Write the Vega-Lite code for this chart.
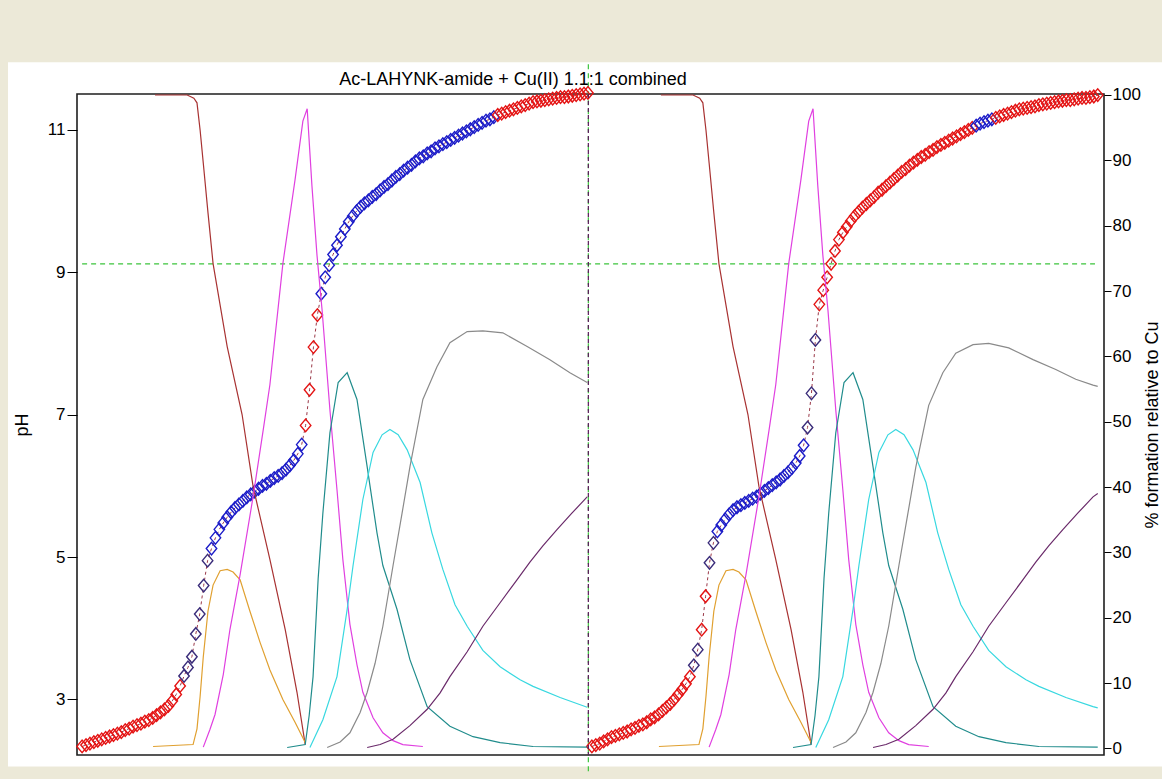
{
"$schema": "https://vega.github.io/schema/vega-lite/v6.json",
"width": 1027, "height": 661,
"autosize": "none",
"padding": {"left": 77, "top": 94, "right": 58, "bottom": 24},
"background": "#ece9d8",
"title": {"text": "Ac-LAHYNK-amide + Cu(II) 1.1:1 combined", "fontSize": 18, "font": "Liberation Sans", "fontWeight": "normal", "color": "#000000", "anchor": "middle", "frame": "group", "dx": -77.5, "dy": 49, "offset": 8, "baseline": "alphabetic"},
"config": {"view": {"stroke": null}, "axis": {"zindex": 2, "labelFont": "Liberation Sans", "titleFont": "Liberation Sans", "labelFontSize": 17, "titleFontSize": 18, "titleFontWeight": "normal", "labelColor": "#000000", "titleColor": "#000000", "tickColor": "#000000", "domain": false, "grid": false}},
"datasets": {
"ph": [
{"i":1,"p":2.34,"c":"R","t":"A"},{"i":2,"p":2.36,"c":"R","t":"A"},{"i":3,"p":2.38,"c":"R","t":"A"},{"i":4,"p":2.40,"c":"R","t":"A"},{"i":5,"p":2.42,"c":"R","t":"A"},{"i":6,"p":2.44,"c":"R","t":"A"},{"i":7,"p":2.46,"c":"R","t":"A"},{"i":8,"p":2.48,"c":"R","t":"A"},{"i":9,"p":2.50,"c":"R","t":"A"},{"i":10,"p":2.52,"c":"R","t":"A"},
{"i":11,"p":2.54,"c":"R","t":"A"},{"i":12,"p":2.57,"c":"R","t":"A"},{"i":13,"p":2.59,"c":"R","t":"A"},{"i":14,"p":2.62,"c":"R","t":"A"},{"i":15,"p":2.64,"c":"R","t":"A"},{"i":16,"p":2.66,"c":"R","t":"A"},{"i":17,"p":2.69,"c":"R","t":"A"},{"i":18,"p":2.71,"c":"R","t":"A"},{"i":19,"p":2.74,"c":"R","t":"A"},{"i":20,"p":2.78,"c":"R","t":"A"},
{"i":21,"p":2.82,"c":"R","t":"A"},{"i":22,"p":2.86,"c":"R","t":"A"},{"i":23,"p":2.91,"c":"R","t":"A"},{"i":24,"p":2.98,"c":"R","t":"A"},{"i":25,"p":3.07,"c":"R","t":"A"},{"i":26,"p":3.19,"c":"R","t":"A"},{"i":27,"p":3.33,"c":"N","t":"A"},{"i":28,"p":3.45,"c":"N","t":"A"},{"i":29,"p":3.60,"c":"N","t":"A"},{"i":30,"p":3.92,"c":"N","t":"A"},
{"i":31,"p":4.20,"c":"N","t":"A"},{"i":32,"p":4.60,"c":"N","t":"A"},{"i":33,"p":4.95,"c":"N","t":"A"},{"i":34,"p":5.12,"c":"B","t":"A"},{"i":35,"p":5.27,"c":"B","t":"A"},{"i":36,"p":5.39,"c":"B","t":"A"},{"i":37,"p":5.48,"c":"B","t":"A"},{"i":38,"p":5.56,"c":"B","t":"A"},{"i":39,"p":5.63,"c":"B","t":"A"},{"i":40,"p":5.69,"c":"B","t":"A"},
{"i":41,"p":5.74,"c":"B","t":"A"},{"i":42,"p":5.79,"c":"B","t":"A"},{"i":43,"p":5.84,"c":"B","t":"A"},{"i":44,"p":5.88,"c":"B","t":"A"},{"i":45,"p":5.92,"c":"B","t":"A"},{"i":46,"p":5.96,"c":"B","t":"A"},{"i":47,"p":6.00,"c":"B","t":"A"},{"i":48,"p":6.03,"c":"B","t":"A"},{"i":49,"p":6.07,"c":"B","t":"A"},{"i":50,"p":6.11,"c":"B","t":"A"},
{"i":51,"p":6.14,"c":"B","t":"A"},{"i":52,"p":6.18,"c":"B","t":"A"},{"i":53,"p":6.23,"c":"B","t":"A"},{"i":54,"p":6.29,"c":"B","t":"A"},{"i":55,"p":6.36,"c":"B","t":"A"},{"i":56,"p":6.45,"c":"B","t":"A"},{"i":57,"p":6.58,"c":"B","t":"A"},{"i":58,"p":6.85,"c":"R","t":"A"},{"i":59,"p":7.35,"c":"R","t":"A"},{"i":60,"p":7.95,"c":"R","t":"A"},
{"i":61,"p":8.40,"c":"R","t":"A"},{"i":62,"p":8.70,"c":"B","t":"A"},{"i":63,"p":8.93,"c":"B","t":"A"},{"i":64,"p":9.10,"c":"B","t":"A"},{"i":65,"p":9.25,"c":"B","t":"A"},{"i":66,"p":9.38,"c":"B","t":"A"},{"i":67,"p":9.50,"c":"B","t":"A"},{"i":68,"p":9.61,"c":"B","t":"A"},{"i":69,"p":9.71,"c":"B","t":"A"},{"i":70,"p":9.79,"c":"B","t":"A"},
{"i":71,"p":9.86,"c":"B","t":"A"},{"i":72,"p":9.92,"c":"B","t":"A"},{"i":73,"p":9.97,"c":"B","t":"A"},{"i":74,"p":10.01,"c":"B","t":"A"},{"i":75,"p":10.06,"c":"B","t":"A"},{"i":76,"p":10.10,"c":"B","t":"A"},{"i":77,"p":10.15,"c":"B","t":"A"},{"i":78,"p":10.20,"c":"B","t":"A"},{"i":79,"p":10.24,"c":"B","t":"A"},{"i":80,"p":10.29,"c":"B","t":"A"},
{"i":81,"p":10.34,"c":"B","t":"A"},{"i":82,"p":10.38,"c":"B","t":"A"},{"i":83,"p":10.43,"c":"B","t":"A"},{"i":84,"p":10.47,"c":"B","t":"A"},{"i":85,"p":10.51,"c":"B","t":"A"},{"i":86,"p":10.56,"c":"B","t":"A"},{"i":87,"p":10.60,"c":"B","t":"A"},{"i":88,"p":10.63,"c":"B","t":"A"},{"i":89,"p":10.67,"c":"B","t":"A"},{"i":90,"p":10.70,"c":"B","t":"A"},
{"i":91,"p":10.74,"c":"B","t":"A"},{"i":92,"p":10.77,"c":"B","t":"A"},{"i":93,"p":10.80,"c":"B","t":"A"},{"i":94,"p":10.83,"c":"B","t":"A"},{"i":95,"p":10.86,"c":"B","t":"A"},{"i":96,"p":10.89,"c":"B","t":"A"},{"i":97,"p":10.92,"c":"B","t":"A"},{"i":98,"p":10.95,"c":"B","t":"A"},{"i":99,"p":10.98,"c":"B","t":"A"},{"i":100,"p":11.01,"c":"B","t":"A"},
{"i":101,"p":11.04,"c":"B","t":"A"},{"i":102,"p":11.07,"c":"B","t":"A"},{"i":103,"p":11.10,"c":"B","t":"A"},{"i":104,"p":11.13,"c":"B","t":"A"},{"i":105,"p":11.15,"c":"B","t":"A"},{"i":106,"p":11.18,"c":"B","t":"A"},{"i":107,"p":11.21,"c":"R","t":"A"},{"i":108,"p":11.23,"c":"R","t":"A"},{"i":109,"p":11.25,"c":"R","t":"A"},{"i":110,"p":11.27,"c":"R","t":"A"},
{"i":111,"p":11.29,"c":"R","t":"A"},{"i":112,"p":11.31,"c":"R","t":"A"},{"i":113,"p":11.33,"c":"R","t":"A"},{"i":114,"p":11.35,"c":"R","t":"A"},{"i":115,"p":11.37,"c":"R","t":"A"},{"i":116,"p":11.39,"c":"R","t":"A"},{"i":117,"p":11.40,"c":"R","t":"A"},{"i":118,"p":11.41,"c":"R","t":"A"},{"i":119,"p":11.42,"c":"R","t":"A"},{"i":120,"p":11.43,"c":"R","t":"A"},
{"i":121,"p":11.44,"c":"R","t":"A"},{"i":122,"p":11.45,"c":"R","t":"A"},{"i":123,"p":11.46,"c":"R","t":"A"},{"i":124,"p":11.46,"c":"R","t":"A"},{"i":125,"p":11.47,"c":"R","t":"A"},{"i":126,"p":11.48,"c":"R","t":"A"},{"i":127,"p":11.49,"c":"R","t":"A"},{"i":128,"p":11.50,"c":"R","t":"A"},{"i":129,"p":11.51,"c":"R","t":"A"},{"i":130,"p":11.52,"c":"R","t":"A"},
{"i":131,"p":2.34,"c":"R","t":"B"},{"i":132,"p":2.36,"c":"R","t":"B"},{"i":133,"p":2.38,"c":"R","t":"B"},{"i":134,"p":2.41,"c":"R","t":"B"},{"i":135,"p":2.44,"c":"R","t":"B"},{"i":136,"p":2.47,"c":"R","t":"B"},{"i":137,"p":2.49,"c":"R","t":"B"},{"i":138,"p":2.51,"c":"R","t":"B"},{"i":139,"p":2.53,"c":"R","t":"B"},{"i":140,"p":2.55,"c":"R","t":"B"},
{"i":141,"p":2.58,"c":"R","t":"B"},{"i":142,"p":2.60,"c":"R","t":"B"},{"i":143,"p":2.63,"c":"R","t":"B"},{"i":144,"p":2.65,"c":"R","t":"B"},{"i":145,"p":2.68,"c":"R","t":"B"},{"i":146,"p":2.72,"c":"R","t":"B"},{"i":147,"p":2.75,"c":"R","t":"B"},{"i":148,"p":2.79,"c":"R","t":"B"},{"i":149,"p":2.84,"c":"R","t":"B"},{"i":150,"p":2.89,"c":"R","t":"B"},
{"i":151,"p":2.94,"c":"R","t":"B"},{"i":152,"p":3.00,"c":"R","t":"B"},{"i":153,"p":3.07,"c":"R","t":"B"},{"i":154,"p":3.14,"c":"R","t":"B"},{"i":155,"p":3.22,"c":"R","t":"B"},{"i":156,"p":3.32,"c":"R","t":"B"},{"i":157,"p":3.48,"c":"N","t":"B"},{"i":158,"p":3.70,"c":"N","t":"B"},{"i":159,"p":3.98,"c":"R","t":"B"},{"i":160,"p":4.45,"c":"R","t":"B"},
{"i":161,"p":4.92,"c":"N","t":"B"},{"i":162,"p":5.20,"c":"N","t":"B"},{"i":163,"p":5.36,"c":"B","t":"B"},{"i":164,"p":5.45,"c":"B","t":"B"},{"i":165,"p":5.53,"c":"B","t":"B"},{"i":166,"p":5.60,"c":"B","t":"B"},{"i":167,"p":5.66,"c":"B","t":"B"},{"i":168,"p":5.70,"c":"B","t":"B"},{"i":169,"p":5.73,"c":"B","t":"B"},{"i":170,"p":5.76,"c":"B","t":"B"},
{"i":171,"p":5.79,"c":"B","t":"B"},{"i":172,"p":5.82,"c":"B","t":"B"},{"i":173,"p":5.85,"c":"B","t":"B"},{"i":174,"p":5.89,"c":"B","t":"B"},{"i":175,"p":5.93,"c":"B","t":"B"},{"i":176,"p":5.97,"c":"B","t":"B"},{"i":177,"p":6.01,"c":"B","t":"B"},{"i":178,"p":6.05,"c":"B","t":"B"},{"i":179,"p":6.09,"c":"B","t":"B"},{"i":180,"p":6.14,"c":"B","t":"B"},
{"i":181,"p":6.19,"c":"B","t":"B"},{"i":182,"p":6.25,"c":"B","t":"B"},{"i":183,"p":6.32,"c":"B","t":"B"},{"i":184,"p":6.42,"c":"B","t":"B"},{"i":185,"p":6.57,"c":"B","t":"B"},{"i":186,"p":6.82,"c":"N","t":"B"},{"i":187,"p":7.30,"c":"N","t":"B"},{"i":188,"p":8.05,"c":"N","t":"B"},{"i":189,"p":8.55,"c":"R","t":"B"},{"i":190,"p":8.75,"c":"R","t":"B"},
{"i":191,"p":8.93,"c":"R","t":"B"},{"i":192,"p":9.12,"c":"R","t":"B"},{"i":193,"p":9.30,"c":"R","t":"B"},{"i":194,"p":9.46,"c":"R","t":"B"},{"i":195,"p":9.56,"c":"R","t":"B"},{"i":196,"p":9.64,"c":"R","t":"B"},{"i":197,"p":9.72,"c":"R","t":"B"},{"i":198,"p":9.79,"c":"R","t":"B"},{"i":199,"p":9.85,"c":"R","t":"B"},{"i":200,"p":9.91,"c":"R","t":"B"},
{"i":201,"p":9.96,"c":"R","t":"B"},{"i":202,"p":10.01,"c":"R","t":"B"},{"i":203,"p":10.06,"c":"R","t":"B"},{"i":204,"p":10.12,"c":"R","t":"B"},{"i":205,"p":10.16,"c":"R","t":"B"},{"i":206,"p":10.21,"c":"R","t":"B"},{"i":207,"p":10.26,"c":"R","t":"B"},{"i":208,"p":10.31,"c":"R","t":"B"},{"i":209,"p":10.36,"c":"R","t":"B"},{"i":210,"p":10.41,"c":"R","t":"B"},
{"i":211,"p":10.45,"c":"R","t":"B"},{"i":212,"p":10.50,"c":"R","t":"B"},{"i":213,"p":10.54,"c":"R","t":"B"},{"i":214,"p":10.58,"c":"R","t":"B"},{"i":215,"p":10.62,"c":"R","t":"B"},{"i":216,"p":10.65,"c":"R","t":"B"},{"i":217,"p":10.69,"c":"R","t":"B"},{"i":218,"p":10.72,"c":"R","t":"B"},{"i":219,"p":10.76,"c":"R","t":"B"},{"i":220,"p":10.79,"c":"R","t":"B"},
{"i":221,"p":10.82,"c":"R","t":"B"},{"i":222,"p":10.85,"c":"R","t":"B"},{"i":223,"p":10.88,"c":"R","t":"B"},{"i":224,"p":10.91,"c":"R","t":"B"},{"i":225,"p":10.94,"c":"R","t":"B"},{"i":226,"p":10.97,"c":"R","t":"B"},{"i":227,"p":11.00,"c":"R","t":"B"},{"i":228,"p":11.03,"c":"R","t":"B"},{"i":229,"p":11.06,"c":"B","t":"B"},{"i":230,"p":11.09,"c":"B","t":"B"},
{"i":231,"p":11.11,"c":"B","t":"B"},{"i":232,"p":11.13,"c":"B","t":"B"},{"i":233,"p":11.15,"c":"B","t":"B"},{"i":234,"p":11.17,"c":"R","t":"B"},{"i":235,"p":11.19,"c":"R","t":"B"},{"i":236,"p":11.21,"c":"R","t":"B"},{"i":237,"p":11.23,"c":"R","t":"B"},{"i":238,"p":11.25,"c":"R","t":"B"},{"i":239,"p":11.27,"c":"R","t":"B"},{"i":240,"p":11.29,"c":"R","t":"B"},
{"i":241,"p":11.30,"c":"R","t":"B"},{"i":242,"p":11.31,"c":"R","t":"B"},{"i":243,"p":11.32,"c":"R","t":"B"},{"i":244,"p":11.33,"c":"R","t":"B"},{"i":245,"p":11.35,"c":"R","t":"B"},{"i":246,"p":11.36,"c":"R","t":"B"},{"i":247,"p":11.37,"c":"R","t":"B"},{"i":248,"p":11.38,"c":"R","t":"B"},{"i":249,"p":11.39,"c":"R","t":"B"},{"i":250,"p":11.40,"c":"R","t":"B"},
{"i":251,"p":11.41,"c":"R","t":"B"},{"i":252,"p":11.42,"c":"R","t":"B"},{"i":253,"p":11.42,"c":"R","t":"B"},{"i":254,"p":11.43,"c":"R","t":"B"},{"i":255,"p":11.44,"c":"R","t":"B"},{"i":256,"p":11.45,"c":"R","t":"B"},{"i":257,"p":11.45,"c":"R","t":"B"},{"i":258,"p":11.46,"c":"R","t":"B"},{"i":259,"p":11.47,"c":"R","t":"B"},{"i":260,"p":11.49,"c":"R","t":"B"}
],
"sp": [
{"s":"r","t":"A","i":19.6,"v":100},{"s":"r","t":"A","i":27.8,"v":100},{"s":"r","t":"A","i":29.5,"v":99.5},{"s":"r","t":"A","i":30.3,"v":98.8},{"s":"r","t":"A","i":31.1,"v":94.6},{"s":"r","t":"A","i":31.9,"v":89.6},{"s":"r","t":"A","i":33.1,"v":82},{"s":"r","t":"A","i":34.4,"v":74.2},{"s":"r","t":"A","i":38,"v":61.5},{"s":"r","t":"A","i":41.8,"v":51.1},{"s":"r","t":"A","i":44.6,"v":40.1},{"s":"r","t":"A","i":48.9,"v":28.9},{"s":"r","t":"A","i":52.8,"v":18.2},{"s":"r","t":"A","i":55.8,"v":8.6},{"s":"r","t":"A","i":57.9,"v":0.6},
{"s":"r","t":"B","i":148.6,"v":100},{"s":"r","t":"B","i":156.8,"v":100},{"s":"r","t":"B","i":158.5,"v":99.5},{"s":"r","t":"B","i":159.3,"v":98.8},{"s":"r","t":"B","i":160.1,"v":94.6},{"s":"r","t":"B","i":160.9,"v":89.6},{"s":"r","t":"B","i":162.1,"v":82},{"s":"r","t":"B","i":163.4,"v":74.2},{"s":"r","t":"B","i":167,"v":61.5},{"s":"r","t":"B","i":170.8,"v":51.1},{"s":"r","t":"B","i":173.6,"v":40.1},{"s":"r","t":"B","i":177.9,"v":28.9},{"s":"r","t":"B","i":181.8,"v":18.2},{"s":"r","t":"B","i":184.8,"v":8.6},{"s":"r","t":"B","i":186.9,"v":0.6},
{"s":"y","t":"A","i":19.1,"v":0.3},{"s":"y","t":"A","i":29.3,"v":0.6},{"s":"y","t":"A","i":30.3,"v":3},{"s":"y","t":"A","i":31.1,"v":8},{"s":"y","t":"A","i":31.9,"v":14},{"s":"y","t":"A","i":33.1,"v":21},{"s":"y","t":"A","i":34.4,"v":25},{"s":"y","t":"A","i":36.2,"v":27.2},{"s":"y","t":"A","i":38,"v":27.4},{"s":"y","t":"A","i":39.5,"v":27},{"s":"y","t":"A","i":41.3,"v":25.8},{"s":"y","t":"A","i":43.8,"v":21},{"s":"y","t":"A","i":46.4,"v":16.2},{"s":"y","t":"A","i":48.9,"v":12},{"s":"y","t":"A","i":52.2,"v":7.5},{"s":"y","t":"A","i":55.3,"v":4},{"s":"y","t":"A","i":57.9,"v":0.9},
{"s":"y","t":"B","i":148.1,"v":0.3},{"s":"y","t":"B","i":158.3,"v":0.6},{"s":"y","t":"B","i":159.3,"v":3},{"s":"y","t":"B","i":160.1,"v":8},{"s":"y","t":"B","i":160.9,"v":14},{"s":"y","t":"B","i":162.1,"v":21},{"s":"y","t":"B","i":163.4,"v":25},{"s":"y","t":"B","i":165.2,"v":27.2},{"s":"y","t":"B","i":167,"v":27.4},{"s":"y","t":"B","i":168.5,"v":27},{"s":"y","t":"B","i":170.3,"v":25.8},{"s":"y","t":"B","i":172.8,"v":21},{"s":"y","t":"B","i":175.4,"v":16.2},{"s":"y","t":"B","i":177.9,"v":12},{"s":"y","t":"B","i":181.2,"v":7.5},{"s":"y","t":"B","i":184.3,"v":4},{"s":"y","t":"B","i":186.9,"v":0.9},
{"s":"m","t":"A","i":31.9,"v":0.2},{"s":"m","t":"A","i":33.6,"v":2.9},{"s":"m","t":"A","i":34.9,"v":5.2},{"s":"m","t":"A","i":37,"v":11.3},{"s":"m","t":"A","i":38.7,"v":18.2},{"s":"m","t":"A","i":41.3,"v":26.6},{"s":"m","t":"A","i":44.6,"v":38.5},{"s":"m","t":"A","i":47.2,"v":48.8},{"s":"m","t":"A","i":48.9,"v":55.7},{"s":"m","t":"A","i":52.2,"v":74.2},{"s":"m","t":"A","i":55.3,"v":87},{"s":"m","t":"A","i":57.3,"v":96},{"s":"m","t":"A","i":58.4,"v":97.9},{"s":"m","t":"A","i":59.6,"v":86.2},{"s":"m","t":"A","i":60.9,"v":75.5},{"s":"m","t":"A","i":62.2,"v":67.1},{"s":"m","t":"A","i":64.2,"v":51.8},{"s":"m","t":"A","i":66,"v":39.6},{"s":"m","t":"A","i":67.5,"v":28.9},{"s":"m","t":"A","i":69.3,"v":19},{"s":"m","t":"A","i":71.1,"v":12.8},{"s":"m","t":"A","i":72.6,"v":8.6},{"s":"m","t":"A","i":75.2,"v":4.7},{"s":"m","t":"A","i":77.7,"v":2.4},{"s":"m","t":"A","i":80.3,"v":1.2},{"s":"m","t":"A","i":82.8,"v":0.6},{"s":"m","t":"A","i":87.9,"v":0.3},
{"s":"m","t":"B","i":160.9,"v":0.2},{"s":"m","t":"B","i":162.6,"v":2.9},{"s":"m","t":"B","i":163.9,"v":5.2},{"s":"m","t":"B","i":166,"v":11.3},{"s":"m","t":"B","i":167.7,"v":18.2},{"s":"m","t":"B","i":170.3,"v":26.6},{"s":"m","t":"B","i":173.6,"v":38.5},{"s":"m","t":"B","i":176.2,"v":48.8},{"s":"m","t":"B","i":177.9,"v":55.7},{"s":"m","t":"B","i":181.2,"v":74.2},{"s":"m","t":"B","i":184.3,"v":87},{"s":"m","t":"B","i":186.3,"v":96},{"s":"m","t":"B","i":187.4,"v":97.9},{"s":"m","t":"B","i":188.6,"v":86.2},{"s":"m","t":"B","i":189.9,"v":75.5},{"s":"m","t":"B","i":191.2,"v":67.1},{"s":"m","t":"B","i":193.2,"v":51.8},{"s":"m","t":"B","i":195,"v":39.6},{"s":"m","t":"B","i":196.5,"v":28.9},{"s":"m","t":"B","i":198.3,"v":19},{"s":"m","t":"B","i":200.1,"v":12.8},{"s":"m","t":"B","i":201.6,"v":8.6},{"s":"m","t":"B","i":204.2,"v":4.7},{"s":"m","t":"B","i":206.7,"v":2.4},{"s":"m","t":"B","i":209.3,"v":1.2},{"s":"m","t":"B","i":211.8,"v":0.6},{"s":"m","t":"B","i":216.9,"v":0.3},
{"s":"te","t":"A","i":53.3,"v":0.15},{"s":"te","t":"A","i":57.9,"v":0.6},{"s":"te","t":"A","i":58.9,"v":5},{"s":"te","t":"A","i":59.9,"v":11},{"s":"te","t":"A","i":61.2,"v":26},{"s":"te","t":"A","i":62.4,"v":36},{"s":"te","t":"A","i":64.2,"v":48.3},{"s":"te","t":"A","i":66.3,"v":56},{"s":"te","t":"A","i":68.6,"v":57.5},{"s":"te","t":"A","i":71.1,"v":53.4},{"s":"te","t":"A","i":73.7,"v":43.1},{"s":"te","t":"A","i":76.2,"v":33},{"s":"te","t":"A","i":77.7,"v":28},{"s":"te","t":"A","i":81.3,"v":21.3},{"s":"te","t":"A","i":84.6,"v":13.6},{"s":"te","t":"A","i":89,"v":6.4},{"s":"te","t":"A","i":94.8,"v":3.4},{"s":"te","t":"A","i":100.7,"v":1.8},{"s":"te","t":"A","i":107.6,"v":0.9},{"s":"te","t":"A","i":116,"v":0.3},{"s":"te","t":"A","i":129.8,"v":0.2},
{"s":"te","t":"B","i":182.3,"v":0.15},{"s":"te","t":"B","i":186.9,"v":0.6},{"s":"te","t":"B","i":187.9,"v":5},{"s":"te","t":"B","i":188.9,"v":11},{"s":"te","t":"B","i":190.2,"v":26},{"s":"te","t":"B","i":191.4,"v":36},{"s":"te","t":"B","i":193.2,"v":48.3},{"s":"te","t":"B","i":195.3,"v":56},{"s":"te","t":"B","i":197.6,"v":57.5},{"s":"te","t":"B","i":200.1,"v":53.4},{"s":"te","t":"B","i":202.7,"v":43.1},{"s":"te","t":"B","i":205.2,"v":33},{"s":"te","t":"B","i":206.7,"v":28},{"s":"te","t":"B","i":210.3,"v":21.3},{"s":"te","t":"B","i":213.6,"v":13.6},{"s":"te","t":"B","i":218,"v":6.4},{"s":"te","t":"B","i":223.8,"v":3.4},{"s":"te","t":"B","i":229.7,"v":1.8},{"s":"te","t":"B","i":236.6,"v":0.9},{"s":"te","t":"B","i":245,"v":0.3},{"s":"te","t":"B","i":260,"v":0.2},
{"s":"cy","t":"A","i":59.1,"v":0.15},{"s":"cy","t":"A","i":62.4,"v":4.4},{"s":"cy","t":"A","i":66,"v":11},{"s":"cy","t":"A","i":68.6,"v":21.3},{"s":"cy","t":"A","i":70.1,"v":28},{"s":"cy","t":"A","i":72.6,"v":38.1},{"s":"cy","t":"A","i":75.2,"v":45.3},{"s":"cy","t":"A","i":77.5,"v":48},{"s":"cy","t":"A","i":79.5,"v":48.8},{"s":"cy","t":"A","i":81.6,"v":48},{"s":"cy","t":"A","i":83.9,"v":45.7},{"s":"cy","t":"A","i":87.2,"v":40.7},{"s":"cy","t":"A","i":90.2,"v":33},{"s":"cy","t":"A","i":93,"v":27.4},{"s":"cy","t":"A","i":96.1,"v":22},{"s":"cy","t":"A","i":99.2,"v":18.7},{"s":"cy","t":"A","i":103.2,"v":15},{"s":"cy","t":"A","i":107.6,"v":12.5},{"s":"cy","t":"A","i":112.7,"v":10.5},{"s":"cy","t":"A","i":116,"v":9.5},{"s":"cy","t":"A","i":122.9,"v":7.8},{"s":"cy","t":"A","i":129.8,"v":6.3},
{"s":"cy","t":"B","i":188.1,"v":0.15},{"s":"cy","t":"B","i":191.4,"v":4.4},{"s":"cy","t":"B","i":195,"v":11},{"s":"cy","t":"B","i":197.6,"v":21.3},{"s":"cy","t":"B","i":199.1,"v":28},{"s":"cy","t":"B","i":201.6,"v":38.1},{"s":"cy","t":"B","i":204.2,"v":45.3},{"s":"cy","t":"B","i":206.5,"v":48},{"s":"cy","t":"B","i":208.5,"v":48.8},{"s":"cy","t":"B","i":210.6,"v":48},{"s":"cy","t":"B","i":212.9,"v":45.7},{"s":"cy","t":"B","i":216.2,"v":40.7},{"s":"cy","t":"B","i":219.2,"v":33},{"s":"cy","t":"B","i":222,"v":27.4},{"s":"cy","t":"B","i":225.1,"v":22},{"s":"cy","t":"B","i":228.2,"v":18.7},{"s":"cy","t":"B","i":232.2,"v":15},{"s":"cy","t":"B","i":236.6,"v":12.5},{"s":"cy","t":"B","i":241.7,"v":10.5},{"s":"cy","t":"B","i":245,"v":9.5},{"s":"cy","t":"B","i":251.9,"v":7.8},{"s":"cy","t":"B","i":258.8,"v":6.4},{"s":"cy","t":"B","i":260,"v":6.2},
{"s":"g","t":"A","i":63.5,"v":0.15},{"s":"g","t":"A","i":66.8,"v":1},{"s":"g","t":"A","i":69.3,"v":2.4},{"s":"g","t":"A","i":71.9,"v":5.5},{"s":"g","t":"A","i":73.7,"v":8.6},{"s":"g","t":"A","i":75.7,"v":13},{"s":"g","t":"A","i":77.7,"v":18.7},{"s":"g","t":"A","i":80.3,"v":28},{"s":"g","t":"A","i":82.6,"v":36},{"s":"g","t":"A","i":84.6,"v":43.1},{"s":"g","t":"A","i":87.9,"v":53.4},{"s":"g","t":"A","i":91.5,"v":58.4},{"s":"g","t":"A","i":94.8,"v":62.1},{"s":"g","t":"A","i":99.2,"v":63.8},{"s":"g","t":"A","i":103.2,"v":63.9},{"s":"g","t":"A","i":108.3,"v":63.6},{"s":"g","t":"A","i":114.5,"v":61.5},{"s":"g","t":"A","i":120.3,"v":59.5},{"s":"g","t":"A","i":125.4,"v":57.5},{"s":"g","t":"A","i":129.8,"v":56},
{"s":"g","t":"B","i":192.5,"v":0.15},{"s":"g","t":"B","i":195.8,"v":1},{"s":"g","t":"B","i":198.3,"v":2.4},{"s":"g","t":"B","i":200.9,"v":5.5},{"s":"g","t":"B","i":202.7,"v":8.6},{"s":"g","t":"B","i":204.7,"v":13},{"s":"g","t":"B","i":206.7,"v":18.7},{"s":"g","t":"B","i":209.3,"v":28},{"s":"g","t":"B","i":211.6,"v":36},{"s":"g","t":"B","i":213.6,"v":43},{"s":"g","t":"B","i":216.9,"v":52.5},{"s":"g","t":"B","i":220.5,"v":57.5},{"s":"g","t":"B","i":223.8,"v":60.5},{"s":"g","t":"B","i":228.2,"v":61.8},{"s":"g","t":"B","i":232.2,"v":62},{"s":"g","t":"B","i":237.3,"v":61.3},{"s":"g","t":"B","i":243.5,"v":59.5},{"s":"g","t":"B","i":249.3,"v":58},{"s":"g","t":"B","i":254.4,"v":56.5},{"s":"g","t":"B","i":258.8,"v":55.6},{"s":"g","t":"B","i":260,"v":55.4},
{"s":"pu","t":"A","i":73.7,"v":0.15},{"s":"pu","t":"A","i":77,"v":0.6},{"s":"pu","t":"A","i":80.3,"v":1.4},{"s":"pu","t":"A","i":84.6,"v":3.5},{"s":"pu","t":"A","i":89,"v":6},{"s":"pu","t":"A","i":92.3,"v":8.5},{"s":"pu","t":"A","i":94.8,"v":11},{"s":"pu","t":"A","i":99.2,"v":14.8},{"s":"pu","t":"A","i":103.2,"v":18.7},{"s":"pu","t":"A","i":107.6,"v":22.3},{"s":"pu","t":"A","i":111.9,"v":25.8},{"s":"pu","t":"A","i":115.2,"v":28.5},{"s":"pu","t":"A","i":118.5,"v":31},{"s":"pu","t":"A","i":122.1,"v":33.5},{"s":"pu","t":"A","i":125.9,"v":36},{"s":"pu","t":"A","i":129.8,"v":38.5},
{"s":"pu","t":"B","i":202.7,"v":0.15},{"s":"pu","t":"B","i":206,"v":0.6},{"s":"pu","t":"B","i":209.3,"v":1.4},{"s":"pu","t":"B","i":213.6,"v":3.5},{"s":"pu","t":"B","i":218,"v":6},{"s":"pu","t":"B","i":221.3,"v":8.5},{"s":"pu","t":"B","i":223.8,"v":11},{"s":"pu","t":"B","i":228.2,"v":14.8},{"s":"pu","t":"B","i":232.2,"v":18.7},{"s":"pu","t":"B","i":236.6,"v":22.3},{"s":"pu","t":"B","i":240.9,"v":25.8},{"s":"pu","t":"B","i":244.2,"v":28.5},{"s":"pu","t":"B","i":247.5,"v":31},{"s":"pu","t":"B","i":251.1,"v":33.5},{"s":"pu","t":"B","i":254.9,"v":36},{"s":"pu","t":"B","i":258.8,"v":38.5},{"s":"pu","t":"B","i":260,"v":39}
]
},
"layer": [
{
"layer": [
{"data": {"values": [{}]}, "mark": {"type": "rect", "fill": "#ffffff", "stroke": null},
 "encoding": {"x": {"datum": -17.9, "type": "quantitative", "scale": {"domain": [-0.3, 261.6], "nice": false, "zero": false}, "axis": null}, "x2": {"datum": 277}, "y": {"datum": 2.06, "type": "quantitative", "scale": {"domain": [2.22, 11.505], "nice": false, "zero": false}}, "y2": {"datum": 11.95}}},
{"data": {"values": [{}]}, "mark": {"type": "rect", "fill": "transparent", "stroke": "#1e1e1e", "strokeWidth": 1.6},
 "encoding": {"x": {"datum": -0.3, "type": "quantitative", "axis": null}, "x2": {"datum": 261.6}, "y": {"datum": 2.22, "type": "quantitative"}, "y2": {"datum": 11.505}}},
{"data": {"values": [{}]}, "mark": {"type": "rule", "color": "#3cc43c", "strokeDash": [5, 4], "strokeWidth": 1.2},
 "encoding": {"x": {"datum": 1, "type": "quantitative", "axis": null}, "x2": {"datum": 259.3}, "y": {"datum": 9.12, "type": "quantitative"}}},
{"data": {"values": [{}]}, "mark": {"type": "rule", "color": "#3cc43c", "strokeDash": [5, 4], "strokeWidth": 1.2},
 "encoding": {"x": {"datum": 130.1, "type": "quantitative", "axis": null}, "y": {"datum": 1.99, "type": "quantitative"}, "y2": {"datum": 11.95}}},
{"data": {"name": "ph"}, "mark": {"type": "line", "color": "#9a3848", "strokeDash": [3, 3], "strokeWidth": 1},
 "encoding": {"x": {"field": "i", "type": "quantitative", "axis": null}, "y": {"field": "p", "type": "quantitative"}, "detail": {"field": "t"}}},
{"data": {"name": "ph"}, "mark": {"type": "point", "shape": "M-1,0L0,-1.2L1,0L0,1.2Z", "filled": false, "size": 110, "strokeWidth": 1.4, "opacity": 1},
 "encoding": {"x": {"field": "i", "type": "quantitative", "axis": null, "scale": {"domain": [-0.3, 261.6], "nice": false, "zero": false}},
  "y": {"field": "p", "type": "quantitative", "scale": {"domain": [2.22, 11.505], "nice": false, "zero": false},
   "axis": {"orient": "left", "zindex": 2, "values": [3, 5, 7, 9, 11], "format": "d", "title": "pH", "tickSize": 10, "labelPadding": 2, "titleX": -55, "titleY": 330.5, "titleAngle": 270, "titleAlign": "center", "titleBaseline": "middle"}},
  "color": {"field": "c", "type": "nominal", "scale": {"domain": ["R", "B", "N"], "range": ["#e41414", "#1c1cc8", "#3a2c7a"]}, "legend": null}}}
]
},
{"data": {"name": "sp"}, "mark": {"type": "line", "strokeWidth": 1.2},
 "encoding": {"x": {"field": "i", "type": "quantitative", "axis": null, "scale": {"domain": [-0.3, 261.6], "nice": false, "zero": false}},
  "y": {"field": "v", "type": "quantitative", "scale": {"domain": [-1, 100.15], "nice": false, "zero": false},
   "axis": {"orient": "right", "zindex": 2, "values": [0, 10, 20, 30, 40, 50, 60, 70, 80, 90, 100], "title": "% formation relative to Cu", "tickSize": 7, "labelPadding": 1, "titleX": 48, "titleY": 330.5, "titleAngle": 270, "titleAlign": "center", "titleBaseline": "middle"}},
  "color": {"field": "s", "type": "nominal", "scale": {"domain": ["r", "y", "m", "te", "cy", "g", "pu"], "range": ["#a83232", "#e0a030", "#e040e0", "#208c8c", "#38d8e0", "#8a8a8a", "#6a2a6a"]}, "legend": null},
  "detail": {"field": "t"}}},
{"data": {"values": [{}]}, "mark": {"type": "rule", "color": "#5a1a5a", "strokeDash": [4, 3], "strokeWidth": 1.2},
 "encoding": {"x": {"datum": 130.1, "type": "quantitative", "axis": null, "scale": {"domain": [-0.3, 261.6], "nice": false, "zero": false}}}}
],
"resolve": {"scale": {"y": "independent", "color": "independent"}}
}
